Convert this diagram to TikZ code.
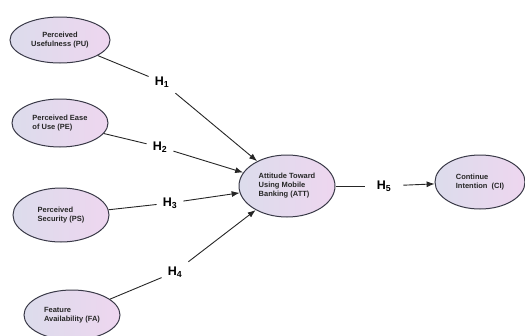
\documentclass[tikz,border=0pt]{standalone}
\usepackage{fontspec}
\setmainfont{Liberation Sans}
\usetikzlibrary{shapes.geometric,arrows.meta}
\definecolor{elleft}{HTML}{DCDCEC}
\definecolor{elright}{HTML}{EED6EF}
\definecolor{elborder}{HTML}{3A3A48}
\begin{document}
\begin{tikzpicture}[x=1pt,y=-1pt,
  construct/.style={ellipse, draw=elborder, line width=1pt, left color=elleft, right color=elright,
    inner sep=0pt, font=\fontsize{7.5}{9}\selectfont\bfseries, text=black!85},
  hyp/.style={font=\fontsize{12.5}{13}\selectfont\bfseries, inner sep=6pt},
  link/.style={line width=0.9pt, draw=black!85},
  arrowlink/.style={link, -{Latex[length=8pt,width=6pt]}}]
\useasboundingbox (0,0) rectangle (525,335);
\node[construct, minimum width=100pt, minimum height=46pt, align=center] (PU) at (60,40) {Perceived\\Usefulness (PU)};
\node[construct, minimum width=96pt, minimum height=48pt, align=left] (PE) at (60,123) {Perceived Ease\\of Use (PE)};
\node[construct, minimum width=96pt, minimum height=54pt, align=left] (PS) at (61,215) {Perceived\\Security (PS)};
\node[construct, minimum width=96pt, minimum height=50pt, align=left] (FA) at (72,315) {Feature\\Availability (FA)};
\node[construct, minimum width=96pt, minimum height=62pt, align=left] (ATT) at (287,186) {Attitude Toward\\Using Mobile\\Banking (ATT)};
\node[construct, minimum width=90pt, minimum height=54pt, align=left] (CI) at (480,182) {Continue\\Intention~ (CI)};
\node[hyp] (h1) at (162,82) {H$_{\mathbf 1}$};
\node[hyp] (h2) at (160,147) {H$_{\mathbf 2}$};
\node[hyp] (h3) at (170,203) {H$_{\mathbf 3}$};
\node[hyp] (h4) at (175,272) {H$_{\mathbf 4}$};
\node[hyp, inner sep=12pt] (h5) at (384,186) {H$_{\mathbf 5}$};
\draw[link] (PU) -- (h1);
\draw[arrowlink] (h1) -- (ATT);
\draw[link] (PE) -- (h2);
\draw[arrowlink] (h2) -- (ATT);
\draw[link] (PS) -- (h3);
\draw[arrowlink] (h3) -- (ATT);
\draw[link] (FA) -- (h4);
\draw[arrowlink] (h4) -- (ATT);
\draw[link] (ATT) -- (h5);
\draw[arrowlink] (h5) -- (CI);
\end{tikzpicture}
\end{document}
